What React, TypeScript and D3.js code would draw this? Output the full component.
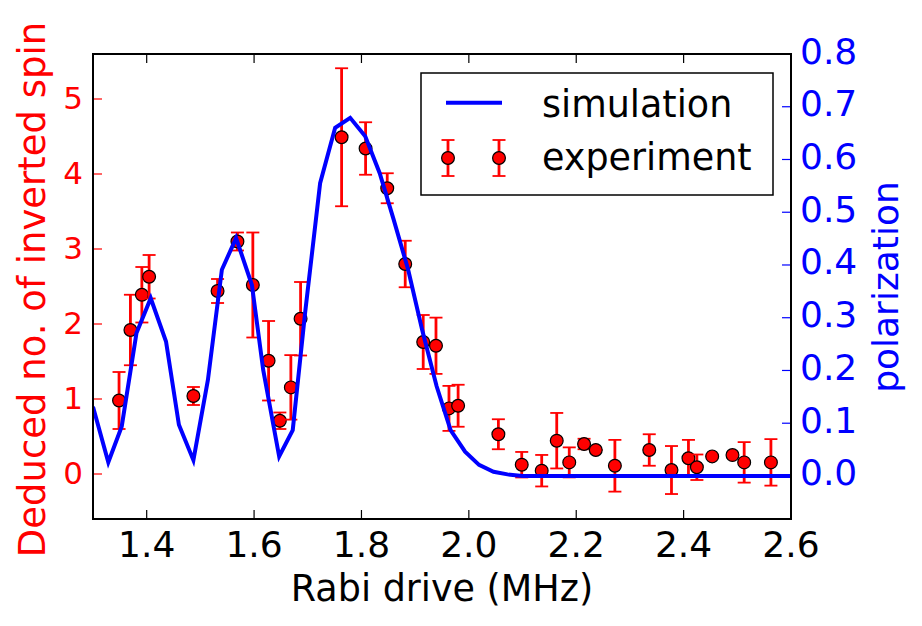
import React, { useEffect, useRef } from "react";
import * as d3 from "d3";

// simulation (polarization, right axis)
const simX = [1.3, 1.3285, 1.3535, 1.381, 1.4075, 1.436, 1.46, 1.487, 1.514, 1.54, 1.5665, 1.596, 1.617, 1.6467, 1.672, 1.695, 1.723, 1.751, 1.779, 1.807, 1.834, 1.86, 1.887, 1.913, 1.94, 1.966, 1.993, 2.019, 2.046, 2.072, 2.1, 2.6];
const simPol = [0.131, 0.026, 0.094, 0.271, 0.337, 0.255, 0.097, 0.03, 0.182, 0.391, 0.451, 0.362, 0.201, 0.037, 0.087, 0.309, 0.555, 0.66, 0.679, 0.644, 0.574, 0.486, 0.391, 0.277, 0.17, 0.087, 0.046, 0.021, 0.008, 0.003, 0.0, 0.0];

// experiment (deduced no. of inverted spin, left axis)
const expX = [1.3485, 1.3697, 1.391, 1.4045, 1.487, 1.532, 1.569, 1.5977, 1.627, 1.648, 1.6685, 1.6866, 1.763, 1.8077, 1.848, 1.8815, 1.915, 1.9388, 1.963, 1.98, 2.055, 2.0985, 2.1357, 2.1637, 2.187, 2.2146, 2.2364, 2.272, 2.336, 2.3774, 2.409, 2.4247, 2.4532, 2.491, 2.5128, 2.5626];
const expY = [0.98, 1.92, 2.39, 2.63, 1.04, 2.44, 3.1, 2.52, 1.51, 0.71, 1.155, 2.07, 4.49, 4.34, 3.81, 2.8, 1.76, 1.71, 0.875, 0.91, 0.53, 0.124, 0.044, 0.444, 0.155, 0.4, 0.32, 0.11, 0.32, 0.053, 0.21, 0.09, 0.235, 0.253, 0.155, 0.155];
const expErr = [0.38, 0.47, 0.37, 0.29, 0.12, 0.16, 0.12, 0.7, 0.53, 0.11, 0.43, 0.49, 0.92, 0.35, 0.2, 0.31, 0.36, 0.375, 0.3, 0.28, 0.2, 0.17, 0.21, 0.37, 0.2, 0.07, 0.0, 0.345, 0.21, 0.32, 0.245, 0.17, 0.0, 0.03, 0.27, 0.31];

const xTicks = [1.4, 1.6, 1.8, 2.0, 2.2, 2.4, 2.6];
const leftTicks = [0, 1, 2, 3, 4, 5];
const rightTicks = [0, 0.1, 0.2, 0.3, 0.4, 0.5, 0.6, 0.7, 0.8];

const W = 922;
const H = 626;
const FONT = "DejaVu Sans, sans-serif";

const App = () => {
  const ref = useRef<SVGSVGElement>(null);

  useEffect(() => {
    document.body.style.margin = "0";
    const margin = { top: 54, right: 131, bottom: 107, left: 93 };
    const x0 = margin.left;
    const x1 = W - margin.right;
    const y0 = H - margin.bottom;
    const y1 = margin.top;

    const svg = d3.select(ref.current);
    svg.selectAll("*").remove();

    const x = d3.scaleLinear().domain([1.3, 2.6]).range([x0, x1]);
    const yL = d3.scaleLinear().domain([-0.6, 5.6]).range([y0, y1]);
    const yR = d3.scaleLinear().domain([-0.0816, 0.8]).range([y0, y1]);

    svg.append("rect").attr("width", W).attr("height", H).attr("fill", "white");

    const clip = svg.append("defs").append("clipPath").attr("id", "plotclip");
    clip.append("rect").attr("x", x0).attr("y", y1).attr("width", x1 - x0).attr("height", y0 - y1);

    const plot = svg.append("g").attr("clip-path", "url(#plotclip)");

    // error bars
    const exp = expX.map((d, i) => ({ x: d, y: expY[i], e: expErr[i] }));
    const eb = plot.selectAll(".eb").data(exp).enter().append("g");
    eb.append("line")
      .attr("x1", (d) => x(d.x))
      .attr("x2", (d) => x(d.x))
      .attr("y1", (d) => yL(d.y - d.e))
      .attr("y2", (d) => yL(d.y + d.e))
      .attr("stroke", "red")
      .attr("stroke-width", 2.8);
    [-1, 1].forEach((s) => {
      eb.append("line")
        .attr("x1", (d) => x(d.x) - 6.5)
        .attr("x2", (d) => x(d.x) + 6.5)
        .attr("y1", (d) => yL(d.y + s * d.e))
        .attr("y2", (d) => yL(d.y + s * d.e))
        .attr("stroke", "red")
        .attr("stroke-width", 1.8);
    });
    eb.append("circle")
      .attr("cx", (d) => x(d.x))
      .attr("cy", (d) => yL(d.y))
      .attr("r", 6.4)
      .attr("fill", "red")
      .attr("stroke", "black")
      .attr("stroke-width", 1.2);

    // simulation line
    const line = d3
      .line<number>()
      .x((d, i) => x(simX[i]))
      .y((d) => yR(d));
    plot.append("path")
      .attr("d", line(simPol))
      .attr("fill", "none")
      .attr("stroke", "#0000ff")
      .attr("stroke-width", 4)
      .attr("stroke-linejoin", "miter");

    // ticks
    const tl = 9;
    xTicks.forEach((t) => {
      svg.append("line").attr("x1", x(t)).attr("x2", x(t)).attr("y1", y0).attr("y2", y0 - tl).attr("stroke", "black").attr("stroke-width", 1.2);
      svg.append("line").attr("x1", x(t)).attr("x2", x(t)).attr("y1", y1).attr("y2", y1 + tl).attr("stroke", "black").attr("stroke-width", 1.2);
      svg.append("text")
        .attr("x", x(t))
        .attr("y", 557)
        .attr("text-anchor", "middle")
        .attr("font-family", FONT)
        .attr("font-size", 36)
        .attr("fill", "black")
        .text(t.toFixed(1));
    });
    leftTicks.forEach((t) => {
      svg.append("line").attr("x1", x0).attr("x2", x0 + tl).attr("y1", yL(t)).attr("y2", yL(t)).attr("stroke", "red").attr("stroke-width", 1.2);
      svg.append("text")
        .attr("x", 83)
        .attr("y", yL(t) + 9.5)
        .attr("text-anchor", "end")
        .attr("font-family", FONT)
        .attr("font-size", 31)
        .attr("fill", "red")
        .text(String(t));
    });
    rightTicks.forEach((t) => {
      svg.append("line").attr("x1", x1).attr("x2", x1 - tl).attr("y1", yR(t)).attr("y2", yR(t)).attr("stroke", "#0000ff").attr("stroke-width", 1.2);
      svg.append("text")
        .attr("x", 800)
        .attr("y", yR(t) + 9.5)
        .attr("text-anchor", "start")
        .attr("font-family", FONT)
        .attr("font-size", 36)
        .attr("fill", "#0000ff")
        .text(t.toFixed(1));
    });

    // frame
    svg.append("rect")
      .attr("x", x0)
      .attr("y", y1)
      .attr("width", x1 - x0)
      .attr("height", y0 - y1)
      .attr("fill", "none")
      .attr("stroke", "black")
      .attr("stroke-width", 2);

    // axis labels
    svg.append("text")
      .attr("x", (x0 + x1) / 2)
      .attr("y", 601)
      .attr("text-anchor", "middle")
      .attr("font-family", FONT)
      .attr("font-size", 36.5)
      .text("Rabi drive (MHz)");
    svg.append("text")
      .attr("transform", `translate(45,289.5) rotate(-90)`)
      .attr("text-anchor", "middle")
      .attr("font-family", FONT)
      .attr("font-size", 37)
      .attr("fill", "red")
      .text("Deduced no. of inverted spin");
    svg.append("text")
      .attr("transform", `translate(898,287) rotate(-90)`)
      .attr("text-anchor", "middle")
      .attr("font-family", FONT)
      .attr("font-size", 36)
      .attr("fill", "#0000ff")
      .text("polarization");

    // legend
    const lg = svg.append("g");
    lg.append("rect")
      .attr("x", 421)
      .attr("y", 73)
      .attr("width", 352)
      .attr("height", 122)
      .attr("fill", "white")
      .attr("stroke", "black")
      .attr("stroke-width", 1.5);
    lg.append("line").attr("x1", 446).attr("x2", 502).attr("y1", 102.7).attr("y2", 102.7).attr("stroke", "#0000ff").attr("stroke-width", 4);
    [448, 499].forEach((cx) => {
      lg.append("line").attr("x1", cx).attr("x2", cx).attr("y1", 140).attr("y2", 176).attr("stroke", "red").attr("stroke-width", 2.8);
      lg.append("line").attr("x1", cx - 6.5).attr("x2", cx + 6.5).attr("y1", 140).attr("y2", 140).attr("stroke", "red").attr("stroke-width", 1.8);
      lg.append("line").attr("x1", cx - 6.5).attr("x2", cx + 6.5).attr("y1", 176).attr("y2", 176).attr("stroke", "red").attr("stroke-width", 1.8);
      lg.append("circle").attr("cx", cx).attr("cy", 158).attr("r", 6.4).attr("fill", "red").attr("stroke", "black").attr("stroke-width", 1.2);
    });
    lg.append("text").attr("x", 542).attr("y", 117).attr("font-family", FONT).attr("font-size", 36.5).text("simulation");
    lg.append("text").attr("x", 542).attr("y", 170).attr("font-family", FONT).attr("font-size", 36.5).text("experiment");
  }, []);

  return (
    <div>
      <svg ref={ref} width={W} height={H} style={{ display: "block" }}></svg>
    </div>
  );
};

export default App;
